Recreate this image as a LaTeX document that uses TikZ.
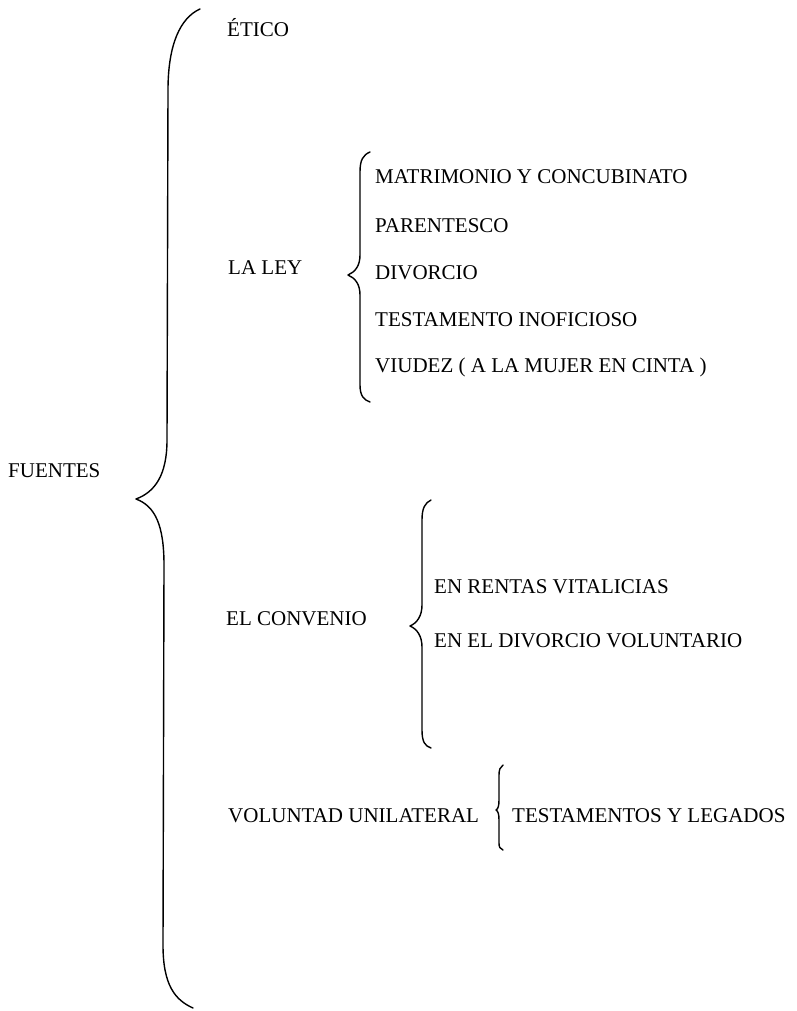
\documentclass[tikz,border=0pt]{standalone}
\usepackage{fontspec}
\setmainfont{Liberation Serif}
\begin{document}
\begin{tikzpicture}[x=1pt,y=-1pt,
  lbl/.style={anchor=base west,inner sep=0pt,font=\fontsize{21}{25}\selectfont},
  brace/.style={line width=1.4pt,line cap=round,line join=round}]
\useasboundingbox (0,0) rectangle (797,1011);
% texts
\node[lbl] (fuentes) at (8,477) {FUENTES};
\node[lbl] (etico) at (227,37) {ÉTICO};
\node[lbl] (ley) at (228,274) {LA LEY};
\node[lbl] (matr) at (375,183) {MATRIMONIO Y CONCUBINATO};
\node[lbl] (par) at (375,232) {PARENTESCO};
\node[lbl] (div) at (375,279) {DIVORCIO};
\node[lbl] (test) at (375,326) {TESTAMENTO INOFICIOSO};
\node[lbl] (viu) at (375,372) {VIUDEZ ( A LA MUJER EN CINTA )};
\node[lbl] (conv) at (226,625) {EL CONVENIO};
\node[lbl] (rentas) at (434,593) {EN RENTAS VITALICIAS};
\node[lbl] (divvol) at (434,647) {EN EL DIVORCIO VOLUNTARIO};
\node[lbl] (vol) at (228,822) {VOLUNTAD UNILATERAL};
\node[lbl] (testl) at (512,822) {TESTAMENTOS Y LEGADOS};
% big brace
\draw[brace] (200,9) .. controls (180,18) and (168,45) .. (168,90)
  -- (167,440) .. controls (167,475) and (155,492) .. (136,499)
  .. controls (155,506) and (164,525) .. (164,565)
  -- (163,945) .. controls (163,985) and (175,1000) .. (193,1008);
% la ley brace
\draw[brace] (370,152) .. controls (363,155) and (360,160) .. (360,172)
  -- (360,255) .. controls (360,266) and (355,272) .. (348,275)
  .. controls (355,278) and (360,284) .. (360,295)
  -- (360,385) .. controls (360,396) and (364,400) .. (370,402);
% convenio brace
\draw[brace] (431,500) .. controls (425,503) and (422,508) .. (422,520)
  -- (422,605) .. controls (422,616) and (417,623) .. (410,626)
  .. controls (417,629) and (422,636) .. (422,647)
  -- (422,730) .. controls (422,742) and (425,746) .. (431,748);
% voluntad brace
\draw[brace] (503,765) .. controls (500,767) and (499,770) .. (499,775)
  -- (499,800) .. controls (499,806) and (498,809) .. (496,810)
  .. controls (498,811) and (499,814) .. (499,820)
  -- (499,843) .. controls (499,847) and (500,849) .. (503,850);
\end{tikzpicture}
\end{document}
